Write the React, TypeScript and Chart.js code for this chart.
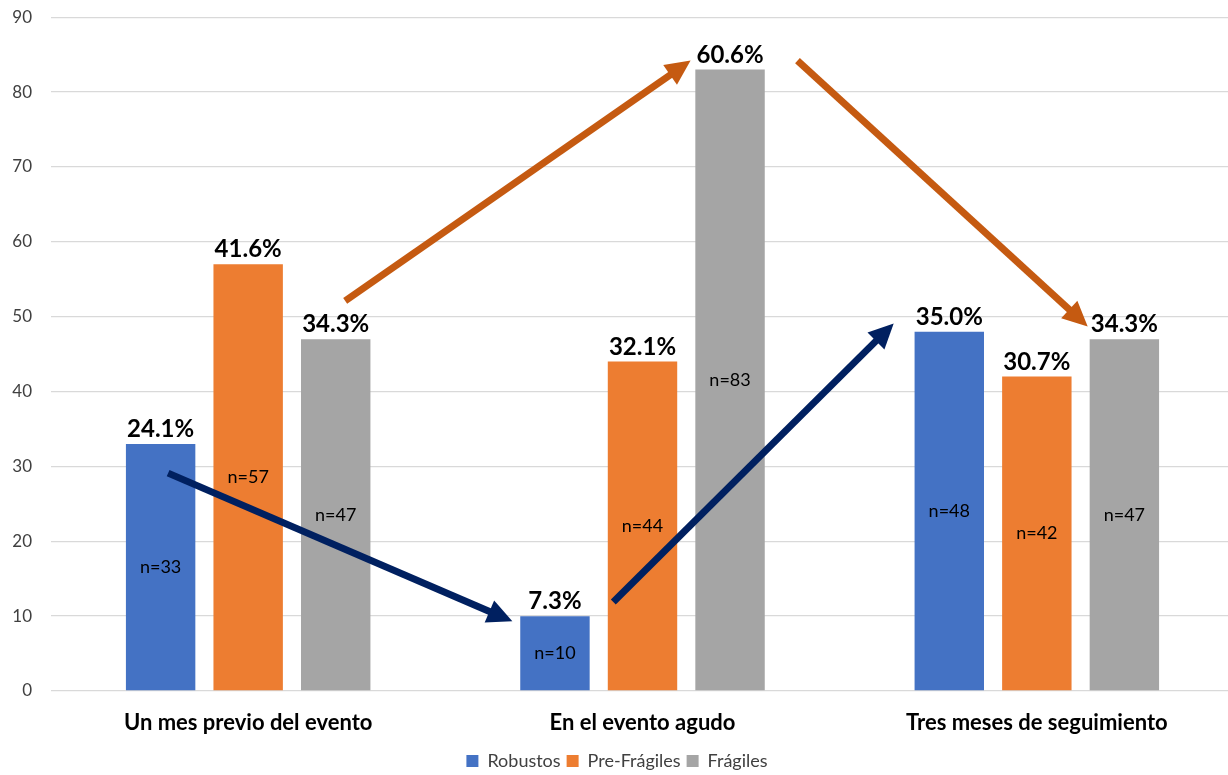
import React, { useEffect, useRef } from "react";
import { Chart, registerables } from "chart.js";

Chart.register(...registerables);

const categories = ["Un mes previo del evento", "En el evento agudo", "Tres meses de seguimiento"];
const seriesNames = ["Robustos", "Pre-Frágiles", "Frágiles"];
const robustos = [33, 10, 48];
const preFragiles = [57, 44, 42];
const fragiles = [47, 83, 47];
const robustosPct = ["24.1%", "7.3%", "35.0%"];
const preFragilesPct = ["41.6%", "32.1%", "30.7%"];
const fragilesPct = ["34.3%", "60.6%", "34.3%"];
const colors = ["#4472C4", "#ED7D31", "#A5A5A5"];
const yTicks = { min: 0, max: 90, step: 10 };

// arrows in data coordinates: [xCategoryFrom, yFrom, xCategoryTo, yTo]
const navyArrows = [
  [-0.203, 29.1, 0.67, 9.3],
  [0.926, 11.9, 1.637, 49.1],
];
const orangeArrows = [
  [0.246, 52.1, 1.122, 84.2],
  [1.393, 84.2, 2.129, 48.7],
];

const FONT = "Lato, 'Open Sans', sans-serif";

const labelPlugin = {
  id: "labels",
  afterDatasetsDraw(chart: any) {
    const ctx = chart.ctx;
    const pcts = [robustosPct, preFragilesPct, fragilesPct];
    chart.data.datasets.forEach((ds: any, di: number) => {
      const meta = chart.getDatasetMeta(di);
      meta.data.forEach((bar: any, i: number) => {
        const base = bar.base;
        const top = bar.y;
        ctx.save();
        ctx.fillStyle = "#000";
        ctx.textAlign = "center";
        ctx.textBaseline = "middle";
        ctx.font = `18px ${FONT}`;
        ctx.fillText("n=" + ds.data[i], bar.x, (base + top) / 2);
        ctx.font = `bold 24px ${FONT}`;
        ctx.textBaseline = "alphabetic";
        ctx.fillText(pcts[di][i], bar.x, top - 7);
        ctx.restore();
      });
    });
  },
};

const arrowPlugin = {
  id: "arrows",
  afterDraw(chart: any) {
    const ctx = chart.ctx;
    const xs = chart.scales.x;
    const ys = chart.scales.y;
    const p0 = xs.getPixelForValue(0);
    const p1 = xs.getPixelForValue(1);
    const px = (v: number) => p0 + (p1 - p0) * v;
    const draw = (a: number[], color: string) => {
      const x1 = px(a[0]);
      const y1 = ys.getPixelForValue(a[1]);
      const x2 = px(a[2]);
      const y2 = ys.getPixelForValue(a[3]);
      const ang = Math.atan2(y2 - y1, x2 - x1);
      const headLen = 25;
      const headW = 12;
      const bx = x2 - headLen * Math.cos(ang);
      const by = y2 - headLen * Math.sin(ang);
      ctx.save();
      ctx.strokeStyle = color;
      ctx.fillStyle = color;
      ctx.lineWidth = 7;
      ctx.lineCap = "butt";
      ctx.beginPath();
      ctx.moveTo(x1, y1);
      ctx.lineTo(bx + 2 * Math.cos(ang), by + 2 * Math.sin(ang));
      ctx.stroke();
      ctx.beginPath();
      ctx.moveTo(x2, y2);
      ctx.lineTo(bx - headW * Math.sin(ang), by + headW * Math.cos(ang));
      ctx.lineTo(bx + headW * Math.sin(ang), by - headW * Math.cos(ang));
      ctx.closePath();
      ctx.fill();
      ctx.restore();
    };
    navyArrows.forEach((a) => draw(a, "#002060"));
    orangeArrows.forEach((a) => draw(a, "#C55A11"));
  },
};

export default function App() {
  const ref = useRef<HTMLCanvasElement>(null);
  useEffect(() => {
    const chart = new Chart(ref.current as HTMLCanvasElement, {
      type: "bar",
      data: {
        labels: categories,
        datasets: [robustos, preFragiles, fragiles].map((d, i) => ({
          label: seriesNames[i],
          data: d,
          backgroundColor: colors[i],
          borderWidth: 0,
          categoryPercentage: 0.666,
          barPercentage: 0.793,
        })),
      },
      options: {
        animation: false,
        responsive: false,
        maintainAspectRatio: false,
        layout: { padding: { top: 7, right: 0, left: 0, bottom: 0 } },
        plugins: {
          tooltip: { enabled: false },
          legend: {
            position: "bottom",
            labels: {
              boxWidth: 12,
              boxHeight: 12,
              padding: 6,
              color: "#404040",
              font: { family: FONT, size: 18 },
            },
          },
        },
        scales: {
          x: {
            grid: { display: false },
            border: { display: false },
            ticks: {
              color: "#000",
              padding: 11,
              font: { family: FONT, size: 22, weight: "bold" },
            },
            afterFit(scale: any) {
              scale.height = 55;
            },
          },
          y: {
            min: yTicks.min,
            max: yTicks.max,
            grid: { color: "#D9D9D9", lineWidth: 1.3, drawTicks: false },
            border: { display: false },
            ticks: {
              stepSize: yTicks.step,
              color: "#404040",
              padding: 19,
              font: { family: FONT, size: 17 },
            },
            afterFit(scale: any) {
              scale.width = 51;
            },
          },
        },
      },
      plugins: [labelPlugin, arrowPlugin],
    } as any);
    return () => chart.destroy();
  }, []);
  return (
    <div style={{ position: "fixed", left: 0, top: 0, width: 1228, height: 775, background: "#fff", overflow: "hidden" }}>
      <canvas ref={ref} width={1234} height={792} style={{ position: "absolute", left: 0, top: -12 }} />
    </div>
  );
}
